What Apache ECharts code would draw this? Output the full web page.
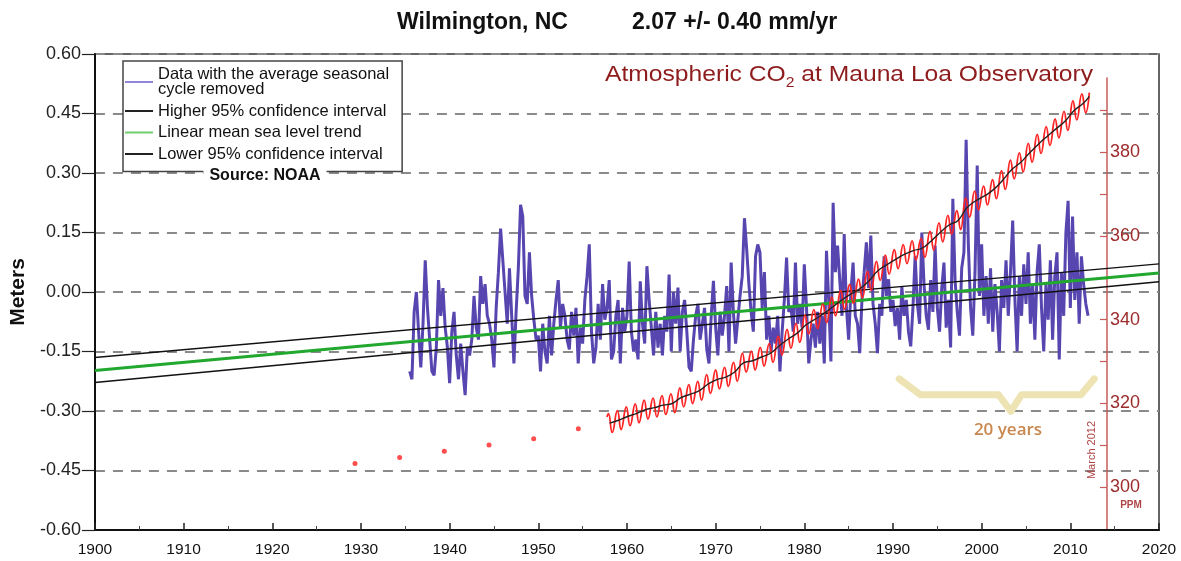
<!DOCTYPE html>
<html><head><meta charset="utf-8">
<script src="https://cdn.jsdelivr.net/npm/echarts@6/dist/echarts.min.js"></script>
<style>html,body{margin:0;padding:0;background:#fff}#c{width:1181px;height:561px}</style>
</head><body><div id="c"></div>
<script>
// ---------- data ----------
const meterTickStep = 0.15;
const co2TickValues = [300,310,320,330,340,350,360,370,380,390];
const co2LabelValues = [300,320,340,360,380];

// Monthly-mean sea level (seasonal cycle removed), sampled quarterly from 1935.5
const seaStartYear = 1935.5;
const seaStepYears = 0.25;
const seaLevel = [
 -0.20,-0.22,
 -0.05,0.00,-0.10,-0.19,   -0.08,0.08,-0.04,-0.12,   -0.20,-0.21,-0.14,0.03,   -0.06,0.01,-0.09,-0.14,
 -0.23,-0.10,-0.05,-0.16,  -0.22,-0.13,-0.20,-0.26,  -0.14,-0.16,-0.12,-0.01,  -0.09,-0.12,0.04,-0.03,
 0.02,-0.06,-0.08,-0.12,   -0.19,-0.04,0.05,0.16,    0.08,0.00,-0.08,0.06,     -0.06,-0.18,-0.05,0.06,
 0.22,0.19,-0.01,-0.03,    0.10,-0.01,-0.07,-0.12,   -0.11,-0.20,-0.08,-0.15,  -0.18,-0.06,-0.16,-0.08,
 -0.02,0.03,-0.09,-0.03,   -0.06,-0.12,-0.145,-0.05, -0.11,-0.04,-0.18,-0.09,  -0.13,-0.02,0.04,0.12,
 -0.10,-0.18,-0.14,-0.03,  -0.12,0.02,-0.07,-0.04,   0.03,-0.17,-0.15,-0.06,   -0.02,-0.18,-0.04,-0.10,
 -0.06,0.077,-0.10,-0.15,  -0.12,-0.17,0.027,-0.08,  -0.13,0.065,-0.02,-0.09,  -0.16,-0.05,-0.14,-0.08,
 -0.16,-0.06,-0.10,0.044,  -0.15,0.00,-0.08,0.011,   -0.15,-0.05,-0.02,-0.10,  -0.19,-0.20,-0.12,-0.06,
 -0.03,-0.12,-0.08,-0.04,  -0.145,-0.18,-0.06,0.028, -0.09,-0.16,-0.05,-0.11,  -0.06,0.015,-0.15,0.074,
 -0.05,-0.13,-0.07,-0.01,  0.04,0.186,0.108,0.02,    -0.05,-0.10,0.09,0.12,    0.10,-0.04,0.05,-0.12,
 -0.06,-0.15,-0.09,-0.13,  -0.06,-0.20,-0.10,-0.02,  0.087,-0.05,-0.036,-0.10, 0.074,-0.08,-0.03,-0.09,
 0.07,-0.04,-0.18,-0.12,   -0.08,-0.14,-0.05,-0.13,  -0.06,-0.18,0.104,-0.02,  -0.175,0.225,0.05,0.117,
 0.03,-0.06,0.146,-0.04,   -0.12,0.00,0.074,-0.06,   -0.08,-0.154,-0.02,0.05,  0.125,0.01,0.142,-0.03,
 -0.08,-0.154,-0.03,-0.06, 0.09,-0.01,0.032,-0.05,   -0.02,-0.086,-0.04,-0.12, 0.015,-0.06,-0.02,-0.10,
 -0.137,-0.04,0.091,-0.03, -0.08,0.15,0.02,-0.06,    -0.095,0.03,-0.05,0.117,  -0.04,-0.10,0.01,0.074,
 -0.09,-0.02,-0.14,0.235,  0.03,-0.05,-0.11,0.06,    0.10,0.384,0.12,-0.04,    -0.11,0.05,0.319,-0.01,
 0.12,-0.06,0.04,-0.08,    0.06,-0.10,0.02,-0.05,    -0.15,0.03,-0.04,0.08,    -0.06,0.05,0.18,-0.02,
 -0.15,0.04,-0.06,0.07,    -0.03,0.10,-0.08,0.02,    -0.12,0.05,0.12,-0.04,    -0.15,0.02,-0.07,0.08,
 -0.12,0.04,0.10,-0.17,    0.05,-0.06,0.15,0.23,     -0.04,0.19,-0.02,0.10,    -0.08,0.09,0.02,-0.03,
 -0.06
];

// Linear trend and 95% confidence lines (meters) at 1900 and 2020
const trendYears = [1900, 2020];
const trendMean  = [-0.198, 0.048];
const trendHigh  = [-0.165, 0.071];
const trendLow   = [-0.228, 0.026];

// Mauna Loa CO2 (ppm): annual means, May highs and October lows, 1958-2011
const co2StartYear = 1958;
const co2AnnualMean = [315.3,316.0,316.9,317.6,318.5,319.0,319.6,320.0,321.4,322.2,
 323.0,324.6,325.7,326.3,327.5,329.7,330.2,331.1,332.0,333.8,
 335.4,336.8,338.8,340.1,341.5,343.1,344.7,346.1,347.4,349.2,
 351.6,353.1,354.4,355.6,356.5,357.1,358.8,360.8,362.6,363.7,
 366.7,368.4,369.6,371.1,373.3,375.8,377.5,379.8,381.9,383.8,
 385.6,387.4,389.9,391.6];
const co2MayHigh = [317.6,318.3,319.2,319.9,320.8,321.3,321.9,322.3,323.7,324.5,
 325.3,326.9,328.0,328.6,329.8,332.0,332.5,333.4,334.3,336.1,
 337.7,339.1,341.1,342.4,343.8,345.4,347.0,348.4,349.7,351.5,
 353.9,355.4,356.7,357.9,358.8,359.4,361.1,363.1,364.9,366.0,
 369.0,370.7,371.9,373.4,375.6,378.1,379.8,382.1,384.2,386.1,
 387.9,389.7,392.2,393.9];
const co2OctLow = [313.1,313.8,314.7,315.4,316.3,316.8,317.4,317.8,319.2,320.0,
 320.8,322.4,323.5,324.1,325.3,327.5,328.0,328.9,329.8,331.6,
 333.2,334.6,336.6,337.9,339.3,340.9,342.5,343.9,345.2,347.0,
 349.4,350.9,352.2,353.4,354.3,354.9,356.6,358.6,360.4,361.5,
 364.5,366.2,367.4,368.9,371.1,373.6,375.3,377.6,379.7,381.6,
 383.4,385.2,387.7,389.4];
const co2FirstMonth = [1958.2, 316.8];
const co2LastMonth = [2012.2, 394.2];
const co2LastMean = [2012.2, 393.3];

// Early (ice-core) CO2 points
const histYears = [1930,1935,1940,1945,1950,1955];
const histCO2 = [305.7,307.1,308.6,310.1,311.6,314.0];

// "20 years" bracket (years, meters)
const bracketYears  = [1990.7,1993.1,2001.9,2003.3,2004.5,2011.2,2012.7];
const bracketMeters = [-0.219,-0.259,-0.259,-0.301,-0.259,-0.259,-0.219];

// ---------- layout ----------
const W = 1181, H = 561;
const L = 87, R = 1159, T = 54, B = 530;
const co2AxisX = 1107, co2AxisTop = 78;
// CO2 axis calibration: 340 ppm at y=319.7, 4.19 px per ppm
const ppmAt = y => 340 + (319.7 - y) / 4.19;
const co2Min = ppmAt(B), co2Max = ppmAt(co2AxisTop);
const x2Max = 1900 + 120 * (co2AxisX - L) / (R - L);

const pair = (xs, ys) => xs.map((x, i) => [x, ys[i]]);
const seaData = seaLevel.map((v, i) => [seaStartYear + i * seaStepYears, v]);
const co2Red = [co2FirstMonth];
co2MayHigh.forEach((v, i) => {
  co2Red.push([co2StartYear + i + 0.37, v]);
  co2Red.push([co2StartYear + i + 0.79, co2OctLow[i]]);
});
co2Red.push(co2LastMonth);
const co2Black = co2AnnualMean.map((v, i) => [co2StartYear + i + 0.5, v]);
co2Black.push(co2LastMean);

const FONT = 'Liberation Sans, Arial, sans-serif';
const DARKRED = '#9c2b2b';

const names = ['Data with the average seasonal\ncycle removed','Higher 95% confidence interval','Linear mean sea level trend','Lower 95% confidence interval'];

const chart = echarts.init(document.getElementById('c'), null, {renderer: 'canvas'});
chart.setOption({
  animation: false,
  backgroundColor: '#fff',
  grid: [
    {left: L, right: W - R, top: T, bottom: H - B, show: true, borderColor: '#333', borderWidth: 1.5, backgroundColor: 'transparent'},
    {left: L, right: W - co2AxisX, top: co2AxisTop, bottom: H - B}
  ],
  xAxis: [
    {type: 'value', gridIndex: 0, min: 1900, max: 2020, interval: 10,
     axisLine: {onZero: false, lineStyle: {color: '#111', width: 2}},
     axisTick: {inside: true, length: 7, lineStyle: {color: '#222', width: 1.5}},
     minorTick: {show: true, splitNumber: 2, length: 4, lineStyle: {color: '#444', width: 1}},
     axisLabel: {color: '#111', fontSize: 15.5, fontFamily: FONT, margin: 12, formatter: v => String(v)},
     splitLine: {show: false}},
    {type: 'value', gridIndex: 1, min: 1900, max: x2Max, show: false}
  ],
  yAxis: [
    {type: 'value', gridIndex: 0, min: -0.6, max: 0.6, interval: meterTickStep,
     name: 'Meters', nameLocation: 'middle', nameGap: 60, nameRotate: 90,
     nameTextStyle: {fontSize: 21, fontWeight: 'bold', color: '#111', fontFamily: FONT},
     axisLine: {show: true, onZero: false, lineStyle: {color: '#111', width: 2}},
     axisTick: {show: true, length: 13, lineStyle: {color: '#222', width: 1.2}},
     axisLabel: {color: '#222', fontSize: 18, fontFamily: FONT, margin: 14, formatter: v => v.toFixed(2)},
     splitLine: {show: true, lineStyle: {color: '#8a8a8a', width: 2, type: [10, 8]}}},
    {type: 'value', gridIndex: 1, position: 'right', min: co2Min, max: co2Max,
     axisLine: {show: true, onZero: false, lineStyle: {color: '#c85a5a', width: 1.5}},
     axisTick: {show: true, inside: true, length: 7, customValues: co2TickValues, lineStyle: {color: '#c85a5a', width: 1.2}},
     axisLabel: {color: DARKRED, fontSize: 18, fontFamily: FONT, margin: 3, customValues: co2LabelValues},
     splitLine: {show: false}}
  ],
  legend: {
    orient: 'vertical', left: 123, top: 61, selectedMode: false,
    data: names, icon: 'rect', itemWidth: 28, itemHeight: 2, itemGap: 4.5,
    padding: [5, 13, 9, 2], borderColor: '#444', borderWidth: 1.5, backgroundColor: '#fff',
    textStyle: {fontSize: 16.5, lineHeight: 15, color: '#111', fontFamily: FONT}
  },
  series: [
    {name: 'bracket', type: 'line', xAxisIndex: 0, yAxisIndex: 0, data: pair(bracketYears, bracketMeters),
     showSymbol: false, lineStyle: {color: '#ede3b3', width: 7, cap: 'round', join: 'round'}, z: 1, silent: true},
    {name: names[0], type: 'line', xAxisIndex: 0, yAxisIndex: 0, data: seaData, showSymbol: false,
     itemStyle: {color: '#8f86dc'}, lineStyle: {color: '#5846b0', width: 3}, z: 2},
    {name: names[1], type: 'line', data: pair(trendYears, trendHigh), showSymbol: false,
     itemStyle: {color: '#222'}, lineStyle: {color: '#111', width: 1.4}, z: 3},
    {name: names[2], type: 'line', data: pair(trendYears, trendMean), showSymbol: false,
     itemStyle: {color: '#6fcf6f'}, lineStyle: {color: '#22a82e', width: 3}, z: 3},
    {name: names[3], type: 'line', data: pair(trendYears, trendLow), showSymbol: false,
     itemStyle: {color: '#222'}, lineStyle: {color: '#111', width: 1.4}, z: 3},
    {name: 'co2', type: 'line', xAxisIndex: 1, yAxisIndex: 1, data: co2Red, showSymbol: false, smooth: 0.5,
     lineStyle: {color: '#ff2424', width: 1.8}, z: 4},
    {name: 'co2mean', type: 'line', xAxisIndex: 1, yAxisIndex: 1, data: co2Black, showSymbol: false, smooth: true,
     lineStyle: {color: '#222', width: 1.4}, z: 5},
    {name: 'co2hist', type: 'scatter', xAxisIndex: 1, yAxisIndex: 1, data: pair(histYears, histCO2),
     symbolSize: 5, itemStyle: {color: '#ff2020'}, z: 5}
  ],
  graphic: [
    {type: 'text', x: 397, y: 23, style: {text: 'Wilmington, NC', font: 'bold 23px ' + FONT, fill: '#111', textVerticalAlign: 'middle'}},
    {type: 'text', x: 632, y: 23, style: {text: '2.07 +/- 0.40 mm/yr', font: 'bold 23px ' + FONT, fill: '#111', textVerticalAlign: 'middle'}},
    {type: 'text', x: 605, y: 60, scaleX: 1.12, z: 10, style: {
      text: '{a|Atmospheric CO}{s|2}{a| at Mauna Loa Observatory}', fill: '#8e1c1c',
      rich: {a: {fontSize: 22, fontFamily: FONT, fill: '#8e1c1c'}, s: {fontSize: 14, fontFamily: FONT, fill: '#8e1c1c', padding: [16, 0, 0, 0]}}}},
    {type: 'text', x: 265, y: 176, z: 10, style: {text: 'Source: NOAA', font: 'bold 16px ' + FONT, fill: '#111',
      textAlign: 'center', textVerticalAlign: 'middle', backgroundColor: '#fff', padding: [2, 6]}},
    {type: 'text', x: 1008, y: 430, z: 10, style: {text: '20 years', font: '600 17px "Open Sans", sans-serif', fill: '#c8874e',
      textAlign: 'center', textVerticalAlign: 'middle'}},
    {type: 'text', x: 1092, y: 450, rotation: Math.PI / 2, z: 10, style: {text: 'March 2012', font: '11px ' + FONT, fill: '#b04545',
      textAlign: 'center', textVerticalAlign: 'middle'}},
    {type: 'text', x: 1131, y: 505, z: 10, style: {text: 'PPM', font: 'bold 10px ' + FONT, fill: '#b04545',
      textAlign: 'center', textVerticalAlign: 'middle'}}
  ]
});
</script></body></html>
